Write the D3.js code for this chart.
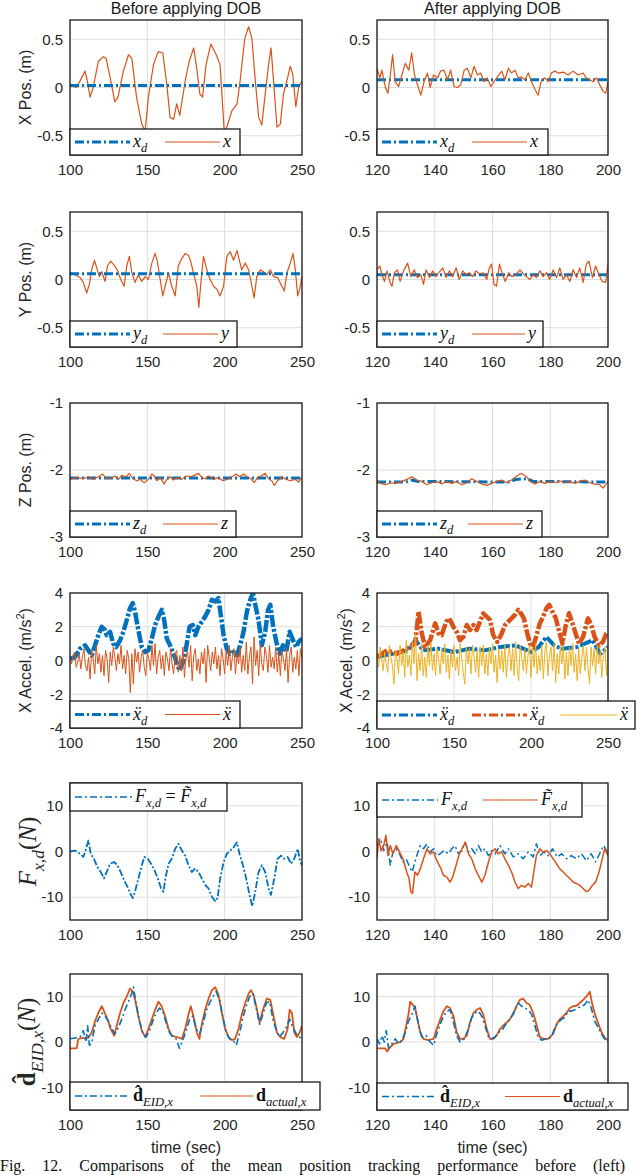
<!DOCTYPE html>
<html>
<head>
<meta charset="utf-8">
<script src="https://cdn.jsdelivr.net/npm/d3@7"></script>
<style>
body { margin: 0; background: #fff; }
</style>
</head>
<body>
<div class="chart"></div>
<script>
// ---- data ----
var ticksBefore = [100, 150, 200, 250];
var ticksAfter = [120, 140, 160, 180, 200];
var posTicks = [-0.5, 0, 0.5];
var zTicks = [-3, -2, -1];
var accTicks = [-4, -2, 0, 2, 4];
var forceTicks = [-10, 0, 10];

// X position
var xdBefore = [[100, 0.02], [250, 0.02]];
var xBefore = [[100,0.02],[104.3,0],[107.5,0.1],[109.7,0.17],[111.2,0.07],[113,-0.1],[115,0],[118.3,0.27],[121.6,0.32],[123.4,0.3],[126,0.1],[129,-0.15],[131,-0.1],[134.5,0.17],[137.8,0.34],[140,0.3],[143,-0.1],[146.4,-0.38],[148.6,-0.45],[150.7,-0.1],[154,0.24],[157,0.37],[160,0.36],[162.6,0.03],[164.7,-0.31],[167,-0.33],[169,-0.17],[171,-0.29],[174.5,0.07],[177,0.27],[180,0.41],[182,0.19],[184,-0.07],[185.7,-0.1],[188,0.24],[191,0.45],[194,0.36],[197,0.24],[199.7,-0.45],[201.4,-0.41],[204.7,-0.24],[208,-0.17],[210,0.07],[213,0.51],[215.5,0.63],[217.6,0.51],[219.8,0.07],[222,-0.31],[224,-0.39],[226,-0.1],[228.4,0.24],[230,0.41],[231.6,0.07],[233.8,-0.41],[236,-0.38],[238,-0.07],[240.7,0.1],[242.4,0.22],[244,0.14],[246,-0.2],[247.8,0],[250,0.07]];
var xdAfter = [[120, 0.08], [200, 0.08]];
var xAfter = [[120,0.2],[121,0.1],[121.7,0.18],[122.9,0],[123.8,-0.06],[124.6,0.13],[125.4,0.34],[126.3,0.06],[127.5,0.01],[128.6,0.13],[129.8,0.25],[131,0.18],[132,0.36],[133,0.13],[134.2,0.01],[135.2,-0.08],[136.3,0.06],[137.5,0.15],[138.4,0],[139.6,0.13],[141,0.1],[142,0.17],[143.2,0.18],[144.4,0.08],[145.5,0.18],[146.7,0.01],[147.9,0],[149,0.03],[150.2,0.18],[151.3,0.2],[152.5,0.1],[153.6,0.22],[154.8,0.13],[155.9,0.15],[157,0.06],[158.2,0.1],[159.4,0.01],[160.5,0.06],[161.7,0.11],[163.2,0.17],[164.3,0.08],[165.5,0.2],[166.6,0.15],[167.8,0.18],[168.9,0.1],[170,0.11],[171.2,0.08],[172.4,0.15],[173.5,0.06],[174.7,-0.02],[175.8,-0.08],[177,0.08],[178.1,0.1],[179.3,0.06],[180.4,0.15],[181.6,0.17],[182.7,0.15],[184.5,0.16],[186.2,0.13],[187.9,0.17],[189.6,0.13],[191.4,0.15],[192.5,0.1],[193.7,0.08],[194.8,0.06],[196,0.1],[197.1,0.03],[198.3,-0.04],[199.2,-0.06],[200,0.06]];

// Y position
var ydBefore = [[100, 0.06], [250, 0.06]];
var yBefore = [[100,0.07],[103.2,0.05],[106.5,0.02],[108.6,-0.03],[110.8,-0.14],[112.5,-0.05],[114,0.1],[115.8,0.2],[117.3,0.12],[119,0.03],[120.5,0.08],[122.7,-0.02],[124.2,0.14],[126.3,0.19],[128.5,0.15],[130.6,0.1],[132.8,0],[135,-0.07],[136.7,0.14],[138.4,0.24],[140,0.07],[142,-0.03],[144.2,0.05],[146.4,-0.02],[148.6,0.03],[150.7,0],[152.9,0.17],[155,0.27],[156.5,0.19],[158.3,0],[160,-0.17],[161.5,-0.07],[163.7,0.07],[165.8,-0.07],[168,-0.17],[170,0.14],[172.3,0.22],[174.5,0.27],[176.6,0.25],[178,0.19],[179.8,0.07],[182,-0.07],[183.3,-0.29],[184.8,0],[186.3,0.24],[188.5,0.1],[190.6,0],[192.8,-0.07],[195,-0.1],[197,-0.17],[199.3,-0.07],[201.4,0.24],[203.6,0.29],[205.7,0.2],[208,0.3],[209.6,0.19],[211,0.1],[213.3,0.17],[215.5,0.1],[217.6,-0.07],[219,-0.19],[220.8,0.03],[223,0.1],[225,0.08],[227.3,0.05],[229.5,0.1],[231.6,0.03],[234.2,0.02],[237,-0.07],[238.5,-0.12],[240.3,0.07],[242.4,0.17],[244.2,0.27],[245.7,0.1],[247.2,-0.17],[248.5,-0.1],[250,0.03]];
var ydAfter = [[120, 0.05], [200, 0.05]];
var yAfter = [[120,0.1],[121,0.14],[121.7,0.05],[122.6,-0.02],[123.5,0.09],[124.4,-0.02],[125.2,-0.07],[126,0.07],[127.1,0.1],[128,-0.02],[129.2,0.09],[130.6,0.17],[131.7,0.03],[132.9,0.1],[134,0.02],[135.2,0.05],[136.1,-0.05],[137,0.1],[138.2,0.02],[139.3,0.09],[140.5,0.03],[141.6,0.08],[142.8,0.12],[143.9,0.02],[145.1,0.09],[146.2,0.03],[147.4,0.12],[148.5,0],[149.7,0.09],[150.8,0.05],[152,0.07],[153.1,0.03],[154.3,0.09],[155.4,0.06],[156.8,0.07],[158,0],[158.9,0.12],[159.7,0.16],[160.5,-0.05],[161.4,-0.07],[162.4,0.16],[163.3,0.07],[164.4,-0.02],[165.6,0.07],[166.7,0.03],[168.1,0.05],[169.5,0.1],[170.6,0.06],[171.8,0.03],[172.9,0],[174.1,0.05],[175.2,0.02],[176.4,0.09],[177.5,0.03],[178.7,0.07],[179.8,0],[181,0.1],[182.2,0.02],[183.3,0.12],[184.5,0],[185.6,0.05],[186.8,-0.02],[187.9,0.1],[189.1,0.02],[190.2,0.12],[191.4,-0.03],[192.5,0.16],[193.4,0.19],[194.6,0.02],[195.7,0.14],[196.9,0.05],[198,-0.02],[199.2,-0.03],[200,0.16]];

// Z position
var zdBefore = [[100, -2.12], [250, -2.12]];
var zBefore = [[100,-2.14],[104.3,-2.11],[108.6,-2.13],[111.9,-2.1],[115,-2.14],[118.3,-2.1],[121.1,-2.06],[123.3,-2.12],[125.9,-2.13],[129.1,-2.09],[131.3,-2.14],[133.4,-2.08],[136.2,-2.1],[138.4,-2.05],[140.6,-2.13],[143.2,-2.16],[145.3,-2.14],[147.9,-2.19],[150.7,-2.14],[152.9,-2.06],[154.4,-2.09],[156.1,-2.16],[158.3,-2.11],[160.9,-2.21],[162.6,-2.14],[164.7,-2.1],[166.9,-2.15],[169.5,-2.11],[172.3,-2.14],[175.1,-2.09],[177.7,-2.1],[180.3,-2.08],[183.1,-2.05],[185.2,-2.11],[187.4,-2.13],[189.6,-2.09],[192.8,-2.14],[196,-2.11],[198.9,-2.16],[201.4,-2.14],[204.7,-2.1],[207.5,-2.06],[209.6,-2.1],[212.2,-2.06],[214.4,-2.1],[217,-2.13],[219.1,-2.19],[221.3,-2.11],[223.5,-2.09],[226.2,-2.05],[228.4,-2.13],[230.5,-2.16],[232.1,-2.23],[234.2,-2.16],[237,-2.1],[239.8,-2.14],[242.4,-2.16],[245.7,-2.14],[247.8,-2.18],[250,-2.1]];
var zdAfter = [[120,-2.18],[130,-2.18],[132,-2.15],[134,-2.17],[166,-2.18],[168,-2.14],[172,-2.13],[174,-2.17],[200,-2.18]];
var zAfter = [[120,-2.15],[121.2,-2.2],[122.9,-2.22],[124.6,-2.19],[126.3,-2.2],[128.6,-2.17],[130.4,-2.14],[132,-2.1],[133.8,-2.15],[135.5,-2.17],[137.3,-2.22],[139,-2.19],[140.7,-2.17],[142.4,-2.21],[144.2,-2.17],[145.9,-2.2],[147.6,-2.17],[149.4,-2.22],[151.1,-2.19],[152.8,-2.13],[154.5,-2.17],[156.3,-2.21],[158,-2.23],[159.7,-2.2],[161.4,-2.17],[163.2,-2.15],[164.9,-2.19],[166.6,-2.15],[168.4,-2.09],[170,-2.05],[171.8,-2.1],[173,-2.17],[174.7,-2.21],[176.4,-2.17],[178.1,-2.2],[179.9,-2.17],[181.6,-2.19],[183.3,-2.16],[185,-2.19],[186.8,-2.17],[188.5,-2.2],[190.2,-2.17],[191.9,-2.15],[193.7,-2.19],[195.4,-2.21],[197.1,-2.22],[198.3,-2.27],[199.2,-2.22],[200,-2.17]];

// X acceleration
var accRefBefore = [[100,0.1],[103.2,0.2],[106.5,0.7],[109.7,0.9],[111.9,0.6],[114,0.3],[116.2,0.9],[118.3,1.5],[120.5,2.0],[122.7,1.8],[123.7,1.5],[125.9,1.7],[128,1.0],[129.8,0.8],[132.4,1.2],[134.5,1.7],[136.7,2.4],[138.8,3.1],[140.6,3.4],[142,2.9],[144.2,1.8],[146.4,0.8],[148.6,0.5],[150.7,0.6],[152.9,1.3],[155,2.1],[157.2,2.6],[159.3,3.0],[160.9,2.4],[162.6,1.3],[164.7,0.9],[166.9,0.4],[169,-0.1],[170.8,-0.6],[173,-0.1],[175,0.7],[177.3,2.0],[179.4,2.1],[181,1.5],[183,2.0],[185.2,2.3],[187.4,2.6],[189.6,3.0],[191.7,3.6],[193.9,3.5],[196,3.7],[197.5,2.7],[199.3,1.5],[201.4,0.7],[203.6,0.4],[205.7,0.5],[207.9,0.3],[210,0.9],[212.2,1.7],[214.4,2.9],[216.5,3.6],[218.3,4.0],[219.8,3.3],[221.9,2.4],[224,0.9],[226.2,1.7],[228,3.0],[229.5,3.3],[231.2,2.1],[233.4,1.1],[235.5,0.4],[237.7,0.9],[239.8,0.5],[242,1.7],[244.2,1.2],[246.3,0.8],[247.8,1.1],[250,1.3]];
// measured acceleration, one reading per second from t = 100
var accBefore = [0.1,-0.2,0.3,0.5,-0.4,-0.1,0.4,-0.5,0.2,0.7,-0.3,
  -0.6,0.2,-1.1,0.6,0.1,-0.8,0.9,-0.2,0.4,-0.7,
  0.3,-0.9,0.6,0.1,-1.3,0.5,-0.3,0.8,0.2,-0.6,
  0.4,-0.2,0.9,-0.5,0.3,-0.8,0.6,0.1,-1.9,0.4,
  -1.4,0.7,-0.1,0.5,-0.7,0.2,0.6,-0.4,-0.9,0.5,
  0.1,-0.6,0.9,-0.3,1.0,-0.8,0.2,0.6,-0.5,0.3,
  -0.9,0.5,0.1,-0.6,0.7,-0.2,-0.8,0.4,0.6,-0.7,
  0.3,-0.6,0.8,-1.0,0.2,0.5,-0.4,0.9,-1.2,0.3,
  0.7,-0.6,0.1,-0.8,0.5,-0.2,0.7,-1.3,0.9,0.2,
  -0.6,0.5,-0.2,0.8,-0.5,0.3,-0.9,0.7,0.1,-0.8,
  0.6,-0.3,0.9,-0.6,0.2,0.7,-0.8,0.4,-0.2,0.8,
  -0.7,0.3,-0.6,1.1,-0.8,0.2,0.8,-1.4,1.4,-0.3,
  0.6,-0.9,1.0,-0.2,-0.6,0.8,0.3,-0.7,0.9,-0.4,
  0.2,-0.5,0.8,-0.7,0.4,-0.9,0.6,0.1,-0.6,0.7,
  -1.3,0.3,0.8,-0.7,0.2,-0.5,0.6,-0.9,0.7,0.2];
var accRefAfter = [[100,0.2],[110,0.4],[120,0.6],[125,1.2],[130,0.6],[140,0.7],[150,0.5],[160,0.7],[170,0.6],[180,0.8],[190,0.9],[200,0.5],[205,0.8],[210,1.4],[215,0.9],[220,0.7],[230,0.8],[240,1.2],[245,0.4],[250,0.8]];
var accCmdAfter = [[100,0.2],[106.5,0.6],[113,0.4],[119.4,0.7],[124.8,1.0],[127,2.9],[129.1,1.6],[131.3,0.8],[134.5,1.2],[137.8,2.2],[139.9,1.6],[142,1.5],[144.9,2.3],[147,2.5],[149.6,2.0],[151.8,1.7],[153.9,1.2],[156.1,1.4],[158.3,2.1],[160.4,1.8],[162.6,2.1],[164.7,1.8],[166.9,2.3],[169,2.8],[171.2,2.6],[173.4,2.4],[175.5,1.5],[178.1,1.1],[181,1.6],[183.1,2.1],[185.2,2.3],[187.4,2.5],[189.6,2.7],[191.7,3.0],[193.4,2.8],[195.4,2.5],[197.1,1.8],[199.3,1.0],[201.4,0.8],[203.6,1.5],[205.7,2.2],[207.9,2.6],[210,3.1],[211.8,3.3],[213.9,2.9],[216.1,2.5],[218.3,1.7],[220.4,1.0],[222.6,2.1],[224.7,2.8],[226.9,2.2],[229,1.6],[231.2,1.0],[233.8,1.4],[237,2.5],[239.2,2.1],[241.3,1.4],[244.2,0.9],[246.7,1.1],[248.9,1.6],[250,1.7]];
var accAfter = [0.3,-0.4,0.8,0.1,-0.6,0.5,-0.2,-0.7,0.9,0.2,-0.3,
  -1.4,0.6,0.1,-0.8,0.9,-0.3,0.5,-1.0,1.2,-0.4,
  0.3,-0.9,1.1,-0.2,1.6,-1.2,0.4,-0.6,1.0,-0.9,
  0.2,-1.0,0.9,-0.3,1.1,-0.6,0.4,-0.9,0.7,0.1,
  -0.8,0.7,-0.2,1.0,-0.7,0.3,-1.1,0.6,-0.4,0.9,
  -0.6,0.2,-0.9,1.0,0.1,-0.7,-1.4,0.8,-0.2,0.7,
  -0.8,0.9,0.2,-0.7,0.6,-1.0,0.8,-0.3,0.9,-0.8,
  0.4,-0.9,0.8,-0.2,1.0,-0.7,0.3,-1.3,0.7,-0.5,
  0.6,-0.7,0.9,-1.0,0.2,0.8,-0.6,0.7,-0.9,1.1,
  -0.4,-1.2,0.9,0.2,-0.6,0.7,-0.8,0.3,0.9,-1.0,
  0.8,-0.4,1.0,-0.8,0.3,-0.6,0.9,-1.1,0.5,1.1,
  -0.9,0.3,0.8,-0.6,1.0,-1.3,0.4,-0.8,0.9,-0.2,
  0.8,-1.1,0.5,-0.9,0.8,-0.3,1.0,-0.7,0.4,-1.2,
  0.7,-0.8,0.2,0.9,-0.6,0.8,-0.4,-1.4,0.8,-0.3,
  0.7,-0.8,0.9,-0.2,0.6,-1.0,0.3,0.8,-0.9,0.6];

// desired force
var forceBefore = [[100,0],[103.2,0.2],[106.5,-0.5],[108.6,-1.2],[110.4,0.6],[111.9,2.4],[113.4,-0.5],[115.5,-1.6],[117.7,-3.4],[119.9,-4.5],[122,-5.9],[123.7,-4.5],[125.9,-2.7],[128.5,-2.3],[130.6,-3.0],[132.8,-4.5],[135,-6.3],[137.1,-7.7],[138.8,-9.1],[140.6,-10.2],[142,-8.8],[144.2,-5.9],[146.4,-3.0],[148.1,-1.2],[150.3,-1.6],[152.4,-2.7],[154.6,-4.1],[156.8,-5.9],[158.9,-8.1],[160.4,-8.8],[161.9,-5.5],[163.7,-2.7],[165.8,-1.6],[168,0.6],[170.1,1.7],[172.3,0.2],[174.5,-0.9],[176.6,-3.0],[178.8,-4.5],[180.9,-3.7],[183.1,-4.5],[185.2,-5.9],[187.4,-7.3],[189.6,-8.1],[191.7,-9.9],[193.9,-10.9],[195.4,-10.2],[197.1,-5.9],[199.3,-2.3],[201.4,-0.5],[203.6,0.2],[205.7,0.9],[207.9,2.0],[209.6,-0.5],[211.8,-3.0],[213.9,-5.9],[216.1,-9.5],[217.8,-12.0],[219.8,-8.8],[221.9,-4.5],[224.1,-3.0],[226.2,-4.5],[228.4,-8.1],[229.9,-9.5],[232.1,-5.9],[234.2,-1.6],[236.4,-0.9],[238.5,-1.6],[240.7,-1.2],[242.9,-2.7],[245,-1.6],[247.2,0.6],[248.9,-2.3],[250,-3.0]];
var forceAfter = [[120,1.3],[121.2,2.8],[122.3,0.2],[123.5,2.0],[124.6,-3.0],[125.5,-0.1],[126.7,0.6],[127.8,-0.5],[129,-2.3],[130.1,-1.6],[131.3,-3.4],[132.2,-4.5],[133.1,-2.3],[134,-0.5],[135,1.3],[136.1,0.6],[137.3,1.7],[138.4,-0.1],[139.6,0.6],[140.7,-0.9],[141.9,-0.5],[143.2,0.2],[144.7,-0.5],[145.9,0.6],[147,1.3],[148.2,-0.5],[149.4,0.2],[150.5,2.0],[151.7,-0.1],[152.8,0.6],[154,-0.5],[155.1,1.3],[156.3,-0.1],[157.4,0.6],[158.6,-0.9],[159.7,0.2],[160.9,-0.5],[162.6,1.3],[164.3,-0.5],[165.5,0.6],[167.2,-1.2],[168.9,-0.5],[170.6,-1.6],[172.4,-0.1],[174.1,-1.2],[175.2,1.7],[176.4,-0.9],[177.8,-0.1],[179.3,-0.9],[180.8,0.6],[182.4,-1.2],[183.9,-0.5],[185.6,-1.6],[187.3,-0.9],[189.1,-1.6],[190.8,-0.5],[192.5,-2.0],[194.2,-0.5],[195.7,-2.3],[197.1,-0.5],[198.5,1.3],[200,-0.5]];
var forceTildeAfter = [[120,-1.6],[120.6,2.8],[121.4,0.2],[122.3,1.3],[123.1,3.5],[123.8,-0.9],[124.6,1.3],[125.5,-0.5],[126.7,1.3],[127.8,-0.1],[129,-1.6],[130.1,-4.1],[131.1,-5.9],[131.7,-8.8],[132.3,-9.2],[133.1,-4.5],[134,-5.2],[135,-3.8],[136.1,-1.6],[137.3,0.6],[138.4,-0.5],[139.6,-0.1],[140.7,-2.0],[141.9,-3.4],[143,-5.2],[144.2,-5.6],[145.3,-6.7],[146.2,-5.6],[147.4,-3.0],[148.5,-0.5],[149.7,0.9],[150.6,2.0],[151.7,-0.5],[152.8,-1.6],[154,-3.8],[155.1,-5.2],[156.3,-6.7],[157.4,-5.2],[158.6,-2.3],[159.7,-0.1],[160.9,0.6],[162,-0.5],[163.2,-0.1],[164.3,-1.6],[165.5,-3.0],[166.6,-4.5],[167.8,-6.7],[168.9,-8.1],[170.1,-7.4],[171.2,-7.8],[172.4,-7.0],[173.5,-7.8],[174.3,-4.5],[175.2,-0.9],[176.4,0.6],[177.5,-0.1],[178.7,0.2],[179.9,-0.5],[181,-1.6],[182.2,-2.7],[183.3,-3.8],[184.5,-4.5],[185.6,-5.2],[186.8,-5.9],[187.9,-6.7],[189.1,-7.0],[190.2,-7.4],[191.4,-8.1],[192.5,-8.8],[193.4,-8.5],[194.6,-7.4],[195.7,-6.7],[196.9,-4.5],[198,-1.6],[198.9,0.6],[200,-0.9]];

// disturbance estimate vs actual
var dEstBefore = [[100,0.7],[103.2,0.9],[106.5,1.1],[108.6,2.5],[110.4,0],[111.4,3.6],[112.5,-0.7],[113.8,-0.4],[116.2,3.6],[118.3,5.0],[120.5,6.4],[122.7,5.7],[124.8,4.6],[127,2.9],[129.1,1.8],[131.3,3.2],[133.4,5.0],[135.6,7.1],[137.8,8.9],[139.9,10.7],[141,12.1],[142.7,8.6],[144.9,4.6],[147,2.1],[149.2,1.1],[151.4,2.5],[153.5,4.6],[155.7,6.4],[157.8,7.5],[160,6.8],[162.1,4.3],[164.3,2.1],[166.5,1.1],[168.6,0.7],[170.8,-1.4],[172.9,0.4],[175.1,2.5],[177.3,5.0],[179.4,5.7],[181.6,2.9],[183.7,1.8],[185.9,3.9],[188,6.8],[190.2,8.6],[192.4,10.0],[194.5,11.1],[196.7,9.3],[198.9,5.4],[201,2.1],[203.2,0.7],[205.3,0.4],[207.5,-0.7],[209.6,1.8],[211.8,5.4],[213.9,7.9],[216.1,10.0],[218.3,10.7],[220.4,7.5],[222.6,3.9],[224.7,6.1],[226.9,8.6],[229.1,8.9],[231.2,5.0],[233.4,2.5],[235.5,1.1],[237.7,2.1],[239.8,3.2],[242,5.0],[244.2,3.2],[246.3,1.8],[248.5,1.1],[250,0.7]];
var dActBefore = [[100,-1.4],[104.3,-1.4],[105.4,0.7],[108.6,0.9],[111.9,0.9],[114,2.1],[116.2,4.6],[118.3,6.4],[120.5,7.9],[122,6.8],[124.2,5.0],[126.3,2.9],[128.5,1.4],[130.2,3.6],[132.4,6.4],[134.5,8.6],[136.7,10.0],[138.8,11.8],[140.6,11.1],[142.1,9.3],[144.2,5.7],[146.4,2.5],[148.6,1.1],[150.7,2.9],[152.9,5.0],[155,7.1],[157.2,8.9],[159.3,7.9],[161.5,5.7],[163.7,2.9],[165.8,1.4],[169.1,1.1],[172.3,0.7],[174.5,2.9],[176.6,6.1],[178.1,7.9],[179.8,5.7],[182,2.1],[183.7,0.7],[185.2,3.9],[187.4,7.1],[189.6,9.6],[191.7,11.4],[193.9,12.1],[196,10.4],[198.2,6.4],[200.3,2.9],[202.5,1.1],[204.7,0.4],[206.8,0.7],[209,2.9],[211.1,6.1],[213.3,8.6],[215.5,10.7],[217,11.4],[218.7,10.4],[220.4,7.9],[222.6,4.3],[224.7,7.1],[227.3,9.6],[229.5,9.3],[231.6,5.7],[233.8,2.1],[235.9,1.1],[238.5,0.7],[240.7,2.9],[242,7.1],[243.5,6.4],[245,2.1],[246.7,1.1],[248.5,2.1],[250,3.6]];
var dEstAfter = [[120,0.7],[120.9,-0.4],[121.7,1.4],[122.5,0],[123.2,2.5],[124,-1.4],[125.2,-0.4],[126.3,0.7],[127.5,-0.4],[128.6,0.4],[129.8,2.1],[130.9,4.6],[132.1,6.1],[133.2,7.9],[134.4,3.6],[135.5,1.1],[137,1.4],[138.4,0],[139.6,-0.7],[140.7,1.8],[141.9,3.9],[143,5.7],[144.2,6.8],[145.3,7.1],[146.5,4.3],[147.6,1.4],[148.8,0],[150.2,0.7],[151.7,2.9],[152.8,5.4],[154,6.4],[155.1,6.8],[156.3,5.7],[157.4,3.6],[158.6,1.1],[159.7,0.7],[160.9,1.1],[162,2.1],[163.2,2.5],[164.3,3.6],[165.5,4.6],[166.6,5.7],[167.8,7.1],[168.9,8.6],[170.1,7.9],[171.2,7.5],[172.4,7.1],[173.5,6.1],[174.7,3.6],[175.8,1.1],[177,0.4],[178.7,0.7],[180.4,1.1],[181.6,3.2],[182.7,4.3],[183.9,5.0],[185,5.4],[186.2,6.8],[187.3,6.8],[188.5,7.1],[189.6,7.5],[190.8,7.9],[191.9,8.2],[193.1,9.3],[194.2,7.5],[195.4,4.6],[196.6,3.2],[197.7,1.8],[198.8,0.7],[200,0]];
var dActAfter = [[120,-1.4],[122.9,-1.4],[123.5,-2.1],[124.6,-1.1],[125.8,-0.4],[128.1,0],[129.2,0.7],[130.1,3.6],[130.9,6.1],[131.5,8.9],[132.4,8.2],[133.2,7.5],[134,5.0],[135,2.1],[136.1,0.7],[137.8,0.4],[139.6,0.7],[140.7,2.9],[141.9,5.0],[143,6.8],[144.2,7.9],[145.3,7.5],[146.5,5.7],[147.6,2.1],[148.8,0.7],[149.9,0.7],[151.1,1.4],[152.2,4.3],[153.4,6.4],[154.5,7.1],[155.7,7.5],[156.8,6.1],[158,2.9],[159.1,0.7],[160.3,0.7],[161.4,1.4],[162.6,2.9],[163.7,3.6],[164.9,4.3],[166,5.0],[167.2,6.1],[168.3,7.9],[169.5,9.3],[170.6,9.6],[171.8,8.6],[172.9,8.2],[174.1,6.4],[175.2,3.9],[176.4,1.1],[177.5,0.7],[179.3,0.7],[181,1.8],[182.2,3.9],[183.3,5.0],[184.5,5.7],[185.6,6.4],[186.8,7.5],[187.9,7.9],[189.1,8.0],[190.2,8.6],[191.4,9.3],[192.5,10.0],[193.7,11.1],[194.6,8.2],[195.7,5.7],[196.9,3.6],[198,1.8],[199.2,0.7],[200,0.4]];

// ---- layout ----
var BLUE = '#0072BD', ORANGE = '#D95319', YELLOW = '#EDB120';
var SANS = '"Liberation Sans", Arial, Helvetica, sans-serif';
var SERIF = '"Liberation Serif", "Times New Roman", serif';

var svg = d3.select('.chart')
  .append('svg')
	.attr('width', 640)
	.attr('height', 1175);

var colL = {left: 70, w: 232}, colR = {left: 377, w: 231};
var rows = [{top: 20, h: 135}, {top: 212, h: 135}, {top: 403, h: 134},
            {top: 593, h: 135}, {top: 783, h: 137}, {top: 974, h: 136}];

function perSecond(t0, vals) {
  return vals.map(function(v, i) { return [t0 + i, v]; });
}

// text with sub/superscripts
function richText(sel, parts, size) {
  var shift = 0;
  parts.forEach(function(p) {
	var target = p.sub ? size * 0.3 : (p.sup ? -size * 0.42 : 0);
	var ts = sel.append('tspan').text(p.t)
	  .attr('font-size', (p.sub || p.sup) ? size * 0.7 : size)
	  .attr('font-style', p.it ? 'italic' : 'normal')
	  .attr('font-weight', p.b ? 'bold' : 'normal');
	if (target !== shift) { ts.attr('dy', target - shift); shift = target; }
  });
}

var clipCount = 0;
function drawPanel(col, row, o) {
  var w = col.w, h = row.h;
  var g = svg.append('g').attr('transform', `translate(${col.left}, ${row.top})`);
  var x = d3.scaleLinear().domain(o.xDomain).range([0, w]);
  var y = d3.scaleLinear().domain(o.yDomain).range([h, 0]);

  g.selectAll('line.gx').data(o.xTicks).enter().append('line')
	.attr('x1', d => x(d)).attr('x2', d => x(d)).attr('y1', 0).attr('y2', h)
	.attr('stroke', '#dedede');
  g.selectAll('line.gy').data(o.yTicks).enter().append('line')
	.attr('y1', d => y(d)).attr('y2', d => y(d)).attr('x1', 0).attr('x2', w)
	.attr('stroke', '#dedede');

  var id = 'clip' + (clipCount++);
  g.append('clipPath').attr('id', id).append('rect').attr('width', w).attr('height', h);
  var line = d3.line().x(d => x(d[0])).y(d => y(d[1]));
  var plot = g.append('g').attr('clip-path', `url(#${id})`);
  o.series.forEach(function(s) {
	plot.append('path').datum(s.data)
	  .attr('d', line)
	  .attr('fill', 'none')
	  .attr('stroke', s.color)
	  .attr('stroke-width', s.width)
	  .attr('stroke-dasharray', s.dash || null)
	  .attr('stroke-linejoin', 'round');
  });

  var xAxis = g.append('g')
	.attr('transform', `translate(0, ${h})`)
	.call(d3.axisBottom(x).tickValues(o.xTicks).tickSize(0).tickPadding(9).tickFormat(d => String(d)));
  var yAxis = g.append('g')
	.call(d3.axisLeft(y).tickValues(o.yTicks).tickSize(0).tickPadding(7).tickFormat(d => String(d)));
  [xAxis, yAxis].forEach(function(a) {
	a.select('.domain').remove();
	a.attr('font-family', SANS).attr('font-size', 15);
	a.selectAll('text').attr('fill', '#262626');
  });

  g.append('rect').attr('width', w).attr('height', h)
	.attr('fill', 'none').attr('stroke', '#1a1a1a').attr('stroke-width', 1.3);

  // legend
  var L = o.legend;
  var lg = g.append('g').attr('transform', `translate(0, ${L.y})`);
  lg.append('rect').attr('width', L.w).attr('height', L.h)
	.attr('fill', '#fff').attr('stroke', '#1a1a1a').attr('stroke-width', 1.3);
  L.items.forEach(function(it) {
	lg.append('line')
	  .attr('x1', it.x1).attr('x2', it.x2).attr('y1', L.h / 2).attr('y2', L.h / 2)
	  .attr('stroke', it.color).attr('stroke-width', it.width)
	  .attr('stroke-dasharray', it.dash || null);
	var t = lg.append('text')
	  .attr('x', it.x2 + 3).attr('y', L.h / 2 + 5)
	  .attr('font-family', SERIF).attr('fill', '#111');
	richText(t, it.label, 18);
  });

  // y label
  if (o.yLabel) {
	var yl = svg.append('text')
	  .attr('transform', `translate(${o.yLabel.x}, ${row.top + h / 2}) rotate(-90)`)
	  .attr('text-anchor', 'middle')
	  .attr('font-family', o.yLabel.serif ? SERIF : SANS)
	  .attr('fill', '#262626');
	richText(yl, o.yLabel.parts, o.yLabel.size);
  }
  return g;
}

// line styles
var refStyle = {color: BLUE, width: 3, dash: '9,3,2,3'};
var bandDash = '12,2,3,2';
var thin = function(c) { return {color: c, width: 1.2}; };
function S(data, st) { return Object.assign({data: data}, st); }

var legRef = {x1: 5, x2: 60, color: BLUE, width: 3.2, dash: '9,3,2,3'};
function legItem(x1, x2, st, label) { return Object.assign({x1: x1, x2: x2}, st, {label: label}); }

var lab = {
  xd: [{t: 'x', it: 1}, {t: 'd', it: 1, sub: 1}],
  x: [{t: 'x', it: 1}],
  yd: [{t: 'y', it: 1}, {t: 'd', it: 1, sub: 1}],
  y: [{t: 'y', it: 1}],
  zd: [{t: 'z', it: 1}, {t: 'd', it: 1, sub: 1}],
  z: [{t: 'z', it: 1}],
  accd: [{t: 'x\u0308', it: 1}, {t: 'd', it: 1, sub: 1}],
  acc: [{t: 'x\u0308', it: 1}],
  Feq: [{t: 'F', it: 1}, {t: 'x,d', it: 1, sub: 1}, {t: ' = '}, {t: 'F\u0303', it: 1}, {t: 'x,d', it: 1, sub: 1}],
  F: [{t: 'F', it: 1}, {t: 'x,d', it: 1, sub: 1}],
  Ft: [{t: 'F\u0303', it: 1}, {t: 'x,d', it: 1, sub: 1}],
  dhat: [{t: 'd\u0302', b: 1}, {t: 'EID,x', it: 1, sub: 1}],
  dact: [{t: 'd', b: 1}, {t: 'actual,x', it: 1, sub: 1}]
};

function posLegend(refLab, lab2, h, w, x1, x2) {
  return {y: h - 26, w: w, h: 26, items: [
	Object.assign({}, legRef, {label: refLab}),
	legItem(x1, x2, thin(ORANGE), lab2)
  ]};
}

// row 1
drawPanel(colL, rows[0], {
  xDomain: [100, 250], xTicks: ticksBefore, yDomain: [-0.7, 0.7], yTicks: posTicks,
  series: [S(xBefore, thin(ORANGE)), S(xdBefore, refStyle)],
  legend: posLegend(lab.xd, lab.x, 135, 170, 95, 150),
  yLabel: {x: 31, size: 16, parts: [{t: 'X Pos. (m)'}]}
});
drawPanel(colR, rows[0], {
  xDomain: [120, 200], xTicks: ticksAfter, yDomain: [-0.7, 0.7], yTicks: posTicks,
  series: [S(xdAfter, refStyle), S(xAfter, thin(ORANGE))],
  legend: posLegend(lab.xd, lab.x, 135, 171, 95, 150)
});
// row 2
drawPanel(colL, rows[1], {
  xDomain: [100, 250], xTicks: ticksBefore, yDomain: [-0.7, 0.7], yTicks: posTicks,
  series: [S(yBefore, thin(ORANGE)), S(ydBefore, refStyle)],
  legend: posLegend(lab.yd, lab.y, 135, 167, 93, 148),
  yLabel: {x: 31, size: 16, parts: [{t: 'Y Pos. (m)'}]}
});
drawPanel(colR, rows[1], {
  xDomain: [120, 200], xTicks: ticksAfter, yDomain: [-0.7, 0.7], yTicks: posTicks,
  series: [S(ydAfter, refStyle), S(yAfter, thin(ORANGE))],
  legend: posLegend(lab.yd, lab.y, 135, 166, 95, 148)
});
// row 3
drawPanel(colL, rows[2], {
  xDomain: [100, 250], xTicks: ticksBefore, yDomain: [-3, -1], yTicks: zTicks,
  series: [S(zdBefore, refStyle), S(zBefore, thin(ORANGE))],
  legend: posLegend(lab.zd, lab.z, 134, 166, 93, 148),
  yLabel: {x: 31, size: 16, parts: [{t: 'Z Pos. (m)'}]}
});
drawPanel(colR, rows[2], {
  xDomain: [120, 200], xTicks: ticksAfter, yDomain: [-3, -1], yTicks: zTicks,
  series: [S(zdAfter, refStyle), S(zAfter, thin(ORANGE))],
  legend: posLegend(lab.zd, lab.z, 134, 165, 91, 146)
});
// row 4
var accLabel = [{t: 'X Accel. (m/s'}, {t: '2', sup: 1}, {t: ')'}];
drawPanel(colL, rows[3], {
  xDomain: [100, 250], xTicks: ticksBefore, yDomain: [-4, 4], yTicks: accTicks,
  series: [S(accRefBefore, {color: BLUE, width: 4.5, dash: bandDash}), S(perSecond(100, accBefore), {color: ORANGE, width: 1})],
  legend: {y: 108, w: 170, h: 27, items: [
	Object.assign({}, legRef, {label: lab.accd}),
	legItem(95, 150, thin(ORANGE), lab.acc)
  ]},
  yLabel: {x: 31, size: 16, parts: accLabel}
});
drawPanel(colR, rows[3], {
  xDomain: [100, 250], xTicks: ticksBefore, yDomain: [-4, 4], yTicks: accTicks,
  series: [S(accRefAfter, {color: BLUE, width: 4, dash: bandDash}),
		   S(accCmdAfter, {color: ORANGE, width: 4.5, dash: bandDash}),
		   S(perSecond(100, accAfter), {color: YELLOW, width: 1})],
  legend: {y: 108, w: 258, h: 28, items: [
	Object.assign({}, legRef, {label: lab.accd}),
	legItem(95, 150, {color: ORANGE, width: 3.2, dash: '9,3,2,3'}, lab.accd),
	legItem(183, 240, thin(YELLOW), lab.acc)
  ]},
  yLabel: {x: 352, size: 16, parts: accLabel}
});
// row 5
drawPanel(colL, rows[4], {
  xDomain: [100, 250], xTicks: ticksBefore, yDomain: [-15, 15], yTicks: forceTicks,
  series: [S(forceBefore, {color: BLUE, width: 1.8, dash: '7,2,2,2'})],
  legend: {y: 0, w: 157, h: 28, items: [
	legItem(5, 62, {color: BLUE, width: 1.4, dash: '7,3,2,3'}, lab.Feq)
  ]},
  yLabel: {x: 36, size: 25, serif: true, parts: [{t: 'F', it: 1}, {t: 'x,d', it: 1, sub: 1}, {t: '('}, {t: 'N', it: 1}, {t: ')'}]}
});
drawPanel(colR, rows[4], {
  xDomain: [120, 200], xTicks: ticksAfter, yDomain: [-15, 15], yTicks: forceTicks,
  series: [S(forceAfter, {color: BLUE, width: 1.5, dash: '7,3,2,3'}), S(forceTildeAfter, {color: ORANGE, width: 1.5})],
  legend: {y: 0, w: 205, h: 34, items: [
	legItem(5, 61, {color: BLUE, width: 1.4, dash: '7,3,2,3'}, lab.F),
	legItem(106, 161, thin(ORANGE), lab.Ft)
  ]}
});
// row 6
drawPanel(colL, rows[5], {
  xDomain: [100, 250], xTicks: ticksBefore, yDomain: [-15, 15], yTicks: forceTicks,
  series: [S(dActBefore, {color: ORANGE, width: 1.8}), S(dEstBefore, {color: BLUE, width: 1.6, dash: '7,3,2,3'})],
  legend: {y: 108, w: 250, h: 28, items: [
	legItem(5, 60, {color: BLUE, width: 1.4, dash: '7,3,2,3'}, lab.dhat),
	legItem(130, 183, thin(ORANGE), lab.dact)
  ]},
  yLabel: {x: 35, size: 25, serif: true, parts: [{t: 'd\u0302', b: 1}, {t: 'EID,x', it: 1, sub: 1}, {t: '('}, {t: 'N', it: 1}, {t: ')'}]}
});
drawPanel(colR, rows[5], {
  xDomain: [120, 200], xTicks: ticksAfter, yDomain: [-15, 15], yTicks: forceTicks,
  series: [S(dActAfter, {color: ORANGE, width: 1.8}), S(dEstAfter, {color: BLUE, width: 1.6, dash: '7,3,2,3'})],
  legend: {y: 109, w: 251, h: 27, items: [
	legItem(5, 60, {color: BLUE, width: 1.4, dash: '7,3,2,3'}, lab.dhat),
	legItem(128, 183, thin(ORANGE), lab.dact)
  ]}
});

// titles, x labels, caption
svg.append('text').attr('x', colL.left + colL.w / 2).attr('y', 14)
  .attr('text-anchor', 'middle').attr('font-family', SANS).attr('font-size', 16).attr('fill', '#1a1a1a')
  .text('Before applying DOB');
svg.append('text').attr('x', colR.left + colR.w / 2).attr('y', 14)
  .attr('text-anchor', 'middle').attr('font-family', SANS).attr('font-size', 16).attr('fill', '#1a1a1a')
  .text('After applying DOB');
[colL, colR].forEach(function(c) {
  svg.append('text').attr('x', c.left + c.w / 2).attr('y', 1153)
	.attr('text-anchor', 'middle').attr('font-family', SANS).attr('font-size', 16).attr('fill', '#262626')
	.text('time (sec)');
});
// caption, justified to the page width by widening the word gaps
var caption = svg.append('text').attr('x', 0).attr('y', 1171)
  .attr('font-family', SERIF).attr('font-size', 16).attr('fill', '#111')
  .text('Fig. 12.  Comparisons of the mean position tracking performance before (left)');
var capWords = caption.text().split(' ').length - 1;
var capGap = (638 - caption.node().getComputedTextLength()) / capWords;
caption.attr('word-spacing', Math.max(0, capGap));
</script>
</body>
</html>
